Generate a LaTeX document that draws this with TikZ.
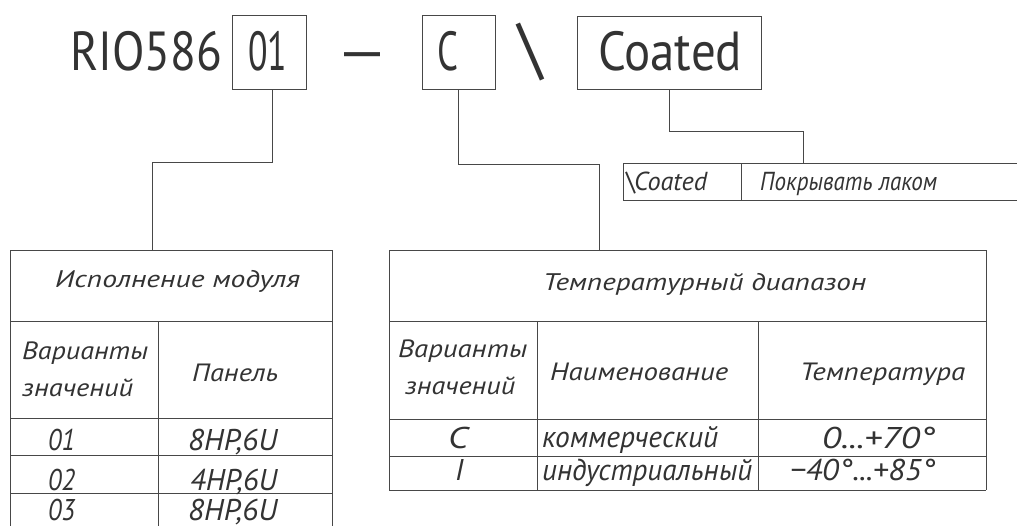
\documentclass[tikz,border=0pt]{standalone}
\usepackage{fontspec}
\setmainfont{PT Sans}
\usepackage{graphicx}
\newcommand{\fitw}[2]{\resizebox{#1}{\height}{#2}}
\begin{document}
\begin{tikzpicture}[x=1pt,y=-1pt,
  ln/.style={draw=black!72, line width=0.9pt},
  hbox/.style={draw=black!72, line width=0.9pt, inner sep=0pt},
  lbl/.style={inner sep=0pt, anchor=base west, text=black!80},
  hdr/.style={lbl, font=\fontsize{55pt}{55pt}\selectfont},
  th/.style={lbl, font=\fontsize{24pt}{24pt}\selectfont\itshape},
  sh/.style={lbl, font=\fontsize{25pt}{25pt}\selectfont\itshape},
  rw/.style={lbl, font=\fontsize{30pt}{30pt}\selectfont\itshape},
  sm/.style={lbl, font=\fontsize{26pt}{26pt}\selectfont\itshape}]
\useasboundingbox[fill=white] (0,0) rectangle (1017,525);

% header boxes
\node[hbox, minimum width=74pt, minimum height=74pt] (b01) at (269,52) {};
\node[hbox, minimum width=73pt, minimum height=74pt] (bC) at (458.5,52) {};
\node[hbox, minimum width=184pt, minimum height=73pt] (bCo) at (669,52.5) {};

% header texts
\node[hdr] (tRIO) at (70,70) {\fitw{152pt}{RIO586}};
\node[hdr] (t01) at (248,70) {\fitw{39pt}{01}};
\node[hdr, anchor=base] (tdash) at (362.5,70) {\fitw{56pt}{–}};
\node[hdr] (tC) at (437,70) {\fitw{21pt}{C}};
\node[hdr, anchor=north west] (tbs) at (518,23) {\resizebox*{25pt}{58pt}{\textbackslash}};
\node[hdr] (tCo) at (598,70) {\fitw{144pt}{Coated}};

% attach points
\coordinate (tA) at (152,250);
\coordinate (tB) at (599,250);
\coordinate (tS) at (803,163);

% connectors
\draw[ln] ([xshift=3pt]b01.south) -- ++(0,73) -| (tA);
\draw[ln] (bC.south) -- ++(0,75) -| (tB);
\draw[ln] (bCo.south) -- ++(0,42) -| (tS);

% left table
\draw[ln] (10,250) -- (332,250);
\draw[ln] (10,321) -- (332,321);
\draw[ln] (10,418) -- (332,418);
\draw[ln] (10,455) -- (332,455);
\draw[ln] (10,493) -- (332,493);
\draw[ln] (10,250) -- (10,530);
\draw[ln] (332,250) -- (332,530);
\draw[ln] (158,321) -- (158,530);

\node[th] (lh) at (55,287) {\fitw{245pt}{Исполнение модуля}};
\node[sh] (lv1) at (22,359) {\fitw{126pt}{Варианты}};
\node[sh] (lv2) at (22,396) {\fitw{111pt}{значений}};
\node[sh] (lp) at (192,381) {\fitw{86pt}{Панель}};
\node[rw] (l01) at (48,450) {\fitw{27pt}{01}};
\node[rw] (l01p) at (188,450) {\fitw{89pt}{8HP,6U}};
\node[rw] (l02) at (48,490) {\fitw{27pt}{02}};
\node[rw] (l02p) at (190,490) {\fitw{87pt}{4HP,6U}};
\node[rw] (l03) at (48,520) {\fitw{27pt}{03}};
\node[rw] (l03p) at (188,520) {\fitw{89pt}{8HP,6U}};

% right table
\draw[ln] (389,250) -- (986,250);
\draw[ln] (389,321) -- (986,321);
\draw[ln] (389,419) -- (986,419);
\draw[ln] (389,456) -- (986,456);
\draw[ln] (389,490) -- (986,490);
\draw[ln] (389,250) -- (389,490);
\draw[ln] (986,250) -- (986,490);
\draw[ln] (537,321) -- (537,490);
\draw[ln] (758,321) -- (758,490);

\node[th] (rh) at (543,290) {\fitw{323pt}{Температурный диапазон}};
\node[sh] (rv1) at (398,357) {\fitw{129pt}{Варианты}};
\node[sh] (rv2) at (405,394) {\fitw{110pt}{значений}};
\node[sh] (rn) at (550,380) {\fitw{178pt}{Наименование}};
\node[sh] (rt) at (800,380) {\fitw{165pt}{Температура}};
\node[rw] (rc) at (448,448) {\fitw{20pt}{C}};
\node[rw] (rk) at (542,447) {\fitw{176pt}{коммерческий}};
\node[rw] (rk2) at (822,448) {\fitw{113pt}{0...+70°}};
\node[rw] (ri) at (455,480) {I};
\node[rw] (ri2) at (542,480) {\fitw{210pt}{индустриальный}};
\node[rw] (ri3) at (790,480) {\fitw{145pt}{−40°...+85°}};

% small table
\draw[ln] (623,163) -- (1020,163);
\draw[ln] (623,200) -- (1020,200);
\draw[ln] (623,163) -- (623,200);
\draw[ln] (741,163) -- (741,200);
\node[sm] (sc) at (624,190) {\fitw{83pt}{\textbackslash Coated}};
\node[sm] (sp) at (760,190) {\fitw{177pt}{Покрывать лаком}};
\end{tikzpicture}
\end{document}
